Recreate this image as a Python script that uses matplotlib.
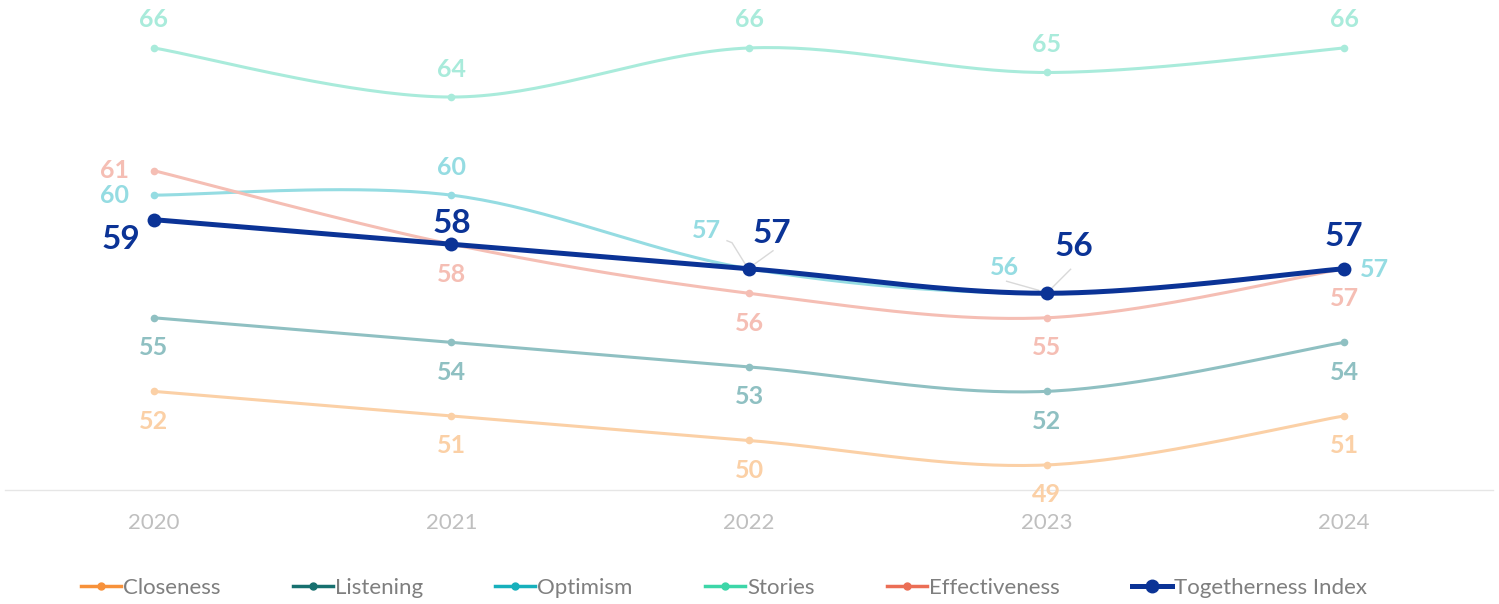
import matplotlib.pyplot as plt
from matplotlib.lines import Line2D
import numpy as np

plt.rcParams['font.family'] = ['Lato', 'DejaVu Sans']

years = ['2020', '2021', '2022', '2023', '2024']
closeness = [52, 51, 50, 49, 51]
listening = [55, 54, 53, 52, 54]
optimism = [60, 60, 57, 56, 57]
stories = [66, 64, 66, 65, 66]
effectiveness = [61, 58, 56, 55, 57]
togetherness = [59, 58, 57, 56, 57]

names = ['Closeness', 'Listening', 'Optimism', 'Stories', 'Effectiveness', 'Togetherness Index']
series = [closeness, listening, optimism, stories, effectiveness, togetherness]
legend_cols = ['#F7913A', '#17706F', '#17B0BC', '#3DD6A8', '#EB6E55', '#0B3396']
line_cols = ['#FBD0A6', '#8FC0C2', '#95DCE2', '#A9EBDB', '#F5BEB4', '#0B3396']


def smooth(xs, ys, n=40):
    # bezier smoothing like office charts
    xs = np.asarray(xs, float)
    ys = np.asarray(ys, float)
    px = np.concatenate([[xs[0]], xs, [xs[-1]]])
    py = np.concatenate([[ys[0]], ys, [ys[-1]]])
    outx, outy = [], []
    t = np.linspace(0, 1, n)
    for i in range(len(xs) - 1):
        x0, x3 = px[i + 1], px[i + 2]
        y0, y3 = py[i + 1], py[i + 2]
        x1 = x0 + (px[i + 2] - px[i]) / 6
        y1 = y0 + (py[i + 2] - py[i]) / 6
        x2 = x3 - (px[i + 3] - px[i + 1]) / 6
        y2 = y3 - (py[i + 3] - py[i + 1]) / 6
        bx = (1-t)**3*x0 + 3*(1-t)**2*t*x1 + 3*(1-t)*t**2*x2 + t**3*x3
        by = (1-t)**3*y0 + 3*(1-t)**2*t*y1 + 3*(1-t)*t**2*y2 + t**3*y3
        outx.extend(bx)
        outy.extend(by)
    return outx, outy


fig = plt.figure(figsize=(14.99, 6.04), dpi=100)
ax = fig.add_axes([5/1499, 114.5/604, 1488/1499, 489.5/604])
x = np.arange(len(years))
ax.set_xlim(-0.5, 4.5)
ax.set_ylim(48, 48 + 489.5 / 24.53)

for i, (vals, c) in enumerate(zip(series, line_cols)):
    sx, sy = smooth(x, vals)
    big = i == 5
    ax.plot(sx, sy, color=c, lw=3.6 if big else 2.2, zorder=3 + i, solid_capstyle='round')
    ax.plot(x, vals, 'o', color=c, ms=10 if big else 5.5, zorder=3 + i, mec='none')

# data labels: (dx px, dy px, ha)
lab = {
    0: [(0, -30, 'center')] * 5,
    1: [(0, -30, 'center')] * 5,
    2: [(-25, 0, 'right'), (0, 28, 'center'), (-28, 38, 'right'), (-28, 26, 'right'), (16, -1, 'left')],
    3: [(0, 28, 'center')] * 5,
    4: [(-25, 0, 'right'), (0, -30, 'center'), (0, -30, 'center'), (0, -30, 'center'), (0, -30, 'center')],
    5: [(-14, -20, 'right'), (0, 21, 'center'), (23, 35, 'center'), (27, 47, 'center'), (0, 32, 'center')],
}
for i, vals in enumerate(series):
    big = i == 5
    for j, v in enumerate(vals):
        dx, dy, ha = lab[i][j]
        ax.annotate(str(v), (j, v), xytext=(dx / 1.389, dy / 1.389), textcoords='offset points',
                    ha=ha, va='center', color=line_cols[i], fontsize=24 if big else 18,
                    fontweight='bold', zorder=20)

# leader lines (pixel offsets from the point)
leaders = [((2, 57), [(-22, 28), (-17, 26), (-4, 5)]), ((2, 57), [(6, 5), (24, 18)]),
           ((3, 56), [(-40, 12), (-8, 3)]), ((3, 56), [(6, 6), (24, 24)])]
for (px0, pv), pts in leaders:
    base = ax.transData.transform((px0, pv))
    xs_, ys_ = [], []
    for (ddx, ddy) in pts:
        d = ax.transData.inverted().transform((base[0] + ddx, base[1] + ddy))
        xs_.append(d[0])
        ys_.append(d[1])
    ax.plot(xs_, ys_, color='#D9D9D9', lw=1.0, zorder=2)

ax.set_xticks(x)
ax.set_xticklabels(years, fontsize=16, color='#BFBFBF')
ax.tick_params(axis='x', length=0, pad=17)
ax.set_yticks([])
for s in ['top', 'right', 'left']:
    ax.spines[s].set_visible(False)
ax.spines['bottom'].set_color('#E6E6E6')
ax.spines['bottom'].set_linewidth(1)

handles = []
for i, c in enumerate(legend_cols):
    big = i == 5
    handles.append(Line2D([], [], color=c, lw=3.6 if big else 2.5, marker='o',
                          ms=9 if big else 5, markevery=[1]))
fig.legend(handles, names, loc='center', bbox_to_anchor=(0.483, 16 / 604), ncol=6,
           frameon=False, fontsize=16, handlelength=1.8, handletextpad=0.1,
           columnspacing=3.25, labelcolor='#7F7F7F')

fig.savefig('out.png', dpi=100)
